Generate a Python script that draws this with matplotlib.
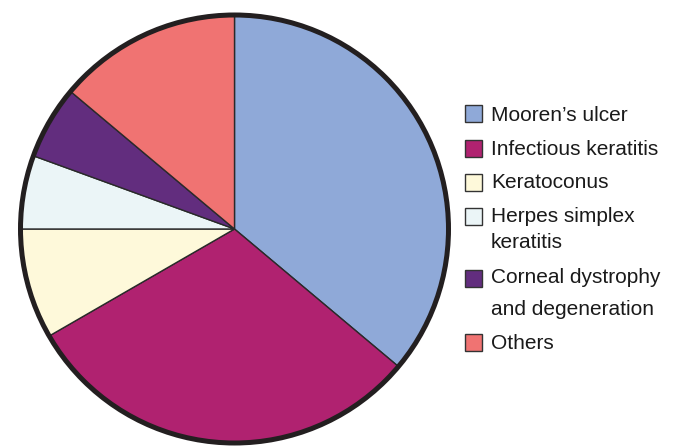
import matplotlib.pyplot as plt
from matplotlib.patches import Rectangle, Circle

plt.rcParams['font.family'] = ['Liberation Sans', 'DejaVu Sans']

# data (number of eyes per indication)
labels = ['Mooren’s ulcer', 'Infectious keratitis', 'Keratoconus',
          'Herpes simplex\nkeratitis', 'Corneal dystrophy\nand degeneration', 'Others']
counts = [13, 11, 3, 2, 2, 5]
colors = ['#8FA9D8', '#B02270', '#FEF9DA', '#EBF5F7', '#622D7E', '#F07372']

W, H = 678, 447
fig = plt.figure(figsize=(W / 100, H / 100), dpi=100)

# pie centred at (234, 229) px, radius ~214 px
cx, cy, r = 234.5, 229, 214
pad = 1.03
R = r * pad
ax = fig.add_axes([(cx - R) / W, 1 - (cy + R) / H, 2 * R / W, 2 * R / H])
ax.pie(counts, colors=colors, startangle=90, counterclock=False, radius=1,
       wedgeprops=dict(edgecolor='#2a2a2a', linewidth=1.0))
ax.add_patch(Circle((0, 0), 1, fill=False, edgecolor='#231f20', linewidth=3.6))
ax.set_xlim(-pad, pad)
ax.set_ylim(-pad, pad)
ax.set_aspect('equal')
ax.axis('off')

# manual legend (pixel layout)
patch_tops = [105, 140, 174, 208, 270, 334]
line_baselines = [[121], [155], [188], [222, 248], [283, 315], [349]]
for lab, col, top, bases in zip(labels, colors, patch_tops, line_baselines):
    fig.add_artist(Rectangle((465 / W, 1 - (top + 17) / H), 17 / W, 17 / H,
                             transform=fig.transFigure, facecolor=col,
                             edgecolor='#333333', linewidth=1.0))
    for line, b in zip(lab.split('\n'), bases):
        fig.text(491 / W, 1 - b / H, line, fontsize=15, color='#1a1a1a',
                 ha='left', va='baseline')

fig.savefig('out.png', dpi=100)
